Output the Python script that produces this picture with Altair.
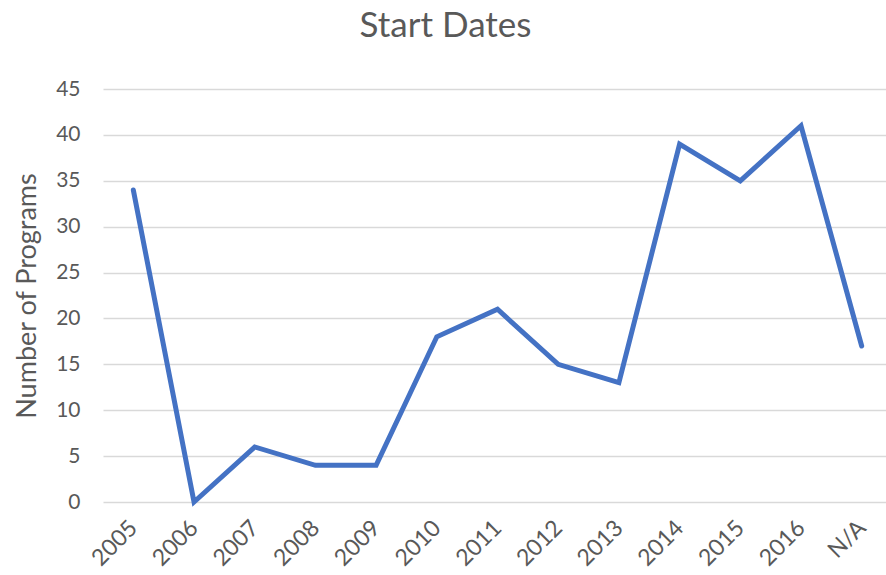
import altair as alt
import pandas as pd

# Program start years and counts
years = ["2005", "2006", "2007", "2008", "2009", "2010", "2011",
         "2012", "2013", "2014", "2015", "2016", "N/A"]
programs = [34, 0, 6, 4, 4, 18, 21, 15, 13, 39, 35, 41, 17]

df = pd.DataFrame({"year": years, "programs": programs})

FONT = "Lato"
GREY = "#595959"

chart = (
    alt.Chart(df)
    .mark_line(color="#4472C4", strokeWidth=5, strokeJoin="miter", strokeCap="round")
    .encode(
        x=alt.X(
            "year:N",
            sort=years,
            scale=alt.Scale(type="point", padding=0.45, align=0.555),
            axis=alt.Axis(
                title=None,
                labelAngle=-45,
                labelAlign="right",
                labelBaseline="middle",
                labelFont=FONT,
                labelFontSize=23,
                labelColor=GREY,
                labelPadding=22,
                ticks=False,
                domain=False,
                grid=False,
            ),
        ),
        y=alt.Y(
            "programs:Q",
            scale=alt.Scale(domain=[0, 45], nice=False),
            axis=alt.Axis(
                title="Number of Programs",
                titleFont=FONT,
                titleFontSize=27,
                titleFontWeight="normal",
                titleColor=GREY,
                titlePadding=14,
                values=list(range(0, 50, 5)),
                labelFont=FONT,
                labelFontSize=21,
                labelColor=GREY,
                labelPadding=23,
                ticks=False,
                domain=False,
                gridColor="#D9D9D9",
                gridWidth=1.5,
            ),
        ),
    )
    .properties(
        width=783,
        height=413,
        title=alt.TitleParams(
            "Start Dates",
            font=FONT,
            fontSize=35,
            fontWeight="normal",
            color=GREY,
            anchor="middle",
            dx=-49,
            offset=34,
        ),
        autosize=alt.AutoSizeParams(type="none"),
        padding={"left": 103, "top": 89, "right": 0, "bottom": 73},
    )
    .configure_view(stroke=None)
)

chart.save("out.html", embed_options={"renderer": "svg", "actions": False})
